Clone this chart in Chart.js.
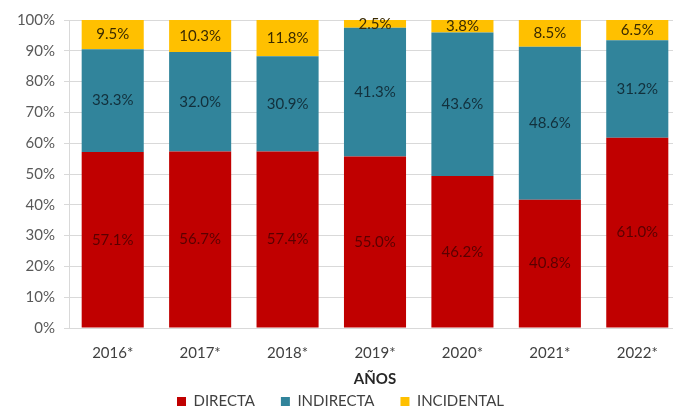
<!DOCTYPE html>
<html>
<head>
<meta charset="utf-8">
<script src="https://cdn.jsdelivr.net/npm/chart.js@4"></script>
<style>
  html, body { margin: 0; padding: 0; background: #fff; overflow: hidden; }
  #wrap { width: 685px; height: 409px; position: relative; }
</style>
</head>
<body>
<div id="wrap"><canvas id="chart"></canvas></div>
<script>
// data (labelled shares, %)
const years = ['2016*', '2017*', '2018*', '2019*', '2020*', '2021*', '2022*'];
const directa = [57.1, 56.7, 57.4, 55.0, 46.2, 40.8, 61.0];
const indirecta = [33.3, 32.0, 30.9, 41.3, 43.6, 48.6, 31.2];
const incidental = [9.5, 10.3, 11.8, 2.5, 3.8, 8.5, 6.5];
const yTicks = [0, 10, 20, 30, 40, 50, 60, 70, 80, 90, 100];

const FONT = 'Lato, "Open Sans", sans-serif';

// 100% stacked columns: each bar is drawn as share of its year total
const totals = years.map((y, i) => directa[i] + indirecta[i] + incidental[i]);
const share = arr => arr.map((v, i) => v / totals[i] * 100);

// labels in the middle of each bar segment (the labelled value)
const segmentLabels = {
    id: 'segmentLabels',
    afterDatasetsDraw(chart) {
        const ctx = chart.ctx;
        ctx.save();
        ctx.font = '15px ' + FONT;
        ctx.textAlign = 'center';
        ctx.textBaseline = 'middle';
        chart.data.datasets.forEach((ds, i) => {
            chart.getDatasetMeta(i).data.forEach((bar, j) => {
                const mid = (bar.y + bar.base) / 2;
                ctx.fillStyle = ds.labelColor;
                ctx.fillText(ds.raw[j].toFixed(1) + '%', bar.x, mid);
            });
        });
        ctx.restore();
    }
};

new Chart(document.getElementById('chart'), {
    type: 'bar',
    data: {
        labels: years,
        datasets: [
            { label: 'DIRECTA', data: share(directa), raw: directa, backgroundColor: '#C00000', labelColor: '#5a0000' },
            { label: 'INDIRECTA', data: share(indirecta), raw: indirecta, backgroundColor: '#31849B', labelColor: '#12303c' },
            { label: 'INCIDENTAL', data: share(incidental), raw: incidental, backgroundColor: '#FFC000', labelColor: '#3a2a00' }
        ]
    },
    options: {
        responsive: true,
        maintainAspectRatio: false,
        animation: false,
        barPercentage: 0.71,
        categoryPercentage: 1,
        layout: { padding: { top: 20, left: 0, right: 4, bottom: -10 } },
        plugins: {
            legend: {
                position: 'bottom',
                labels: {
                    boxWidth: 9,
                    boxHeight: 9,
                    padding: 26,
                    color: '#404040',
                    font: { family: FONT, size: 15 }
                }
            },
            tooltip: { enabled: false }
        },
        scales: {
            x: {
                stacked: true,
                grid: { display: false },
                border: { color: '#d9d9d9' },
                ticks: { color: '#404040', font: { family: FONT, size: 15 }, padding: 8 },
                title: {
                    display: true,
                    text: 'AÑOS',
                    color: '#262626',
                    font: { family: FONT, size: 15, weight: 'bold' },
                    padding: { top: 0, bottom: -20 }
                },
                afterFit(axis) { axis.height = 40; }
            },
            y: {
                stacked: true,
                min: 0,
                max: 100,
                afterBuildTicks(axis) { axis.ticks = yTicks.map(v => ({ value: v })); },
                grid: { color: '#d9d9d9', tickLength: 5 },
                border: { color: '#d9d9d9' },
                ticks: {
                    color: '#595959',
                    font: { family: FONT, size: 15 },
                    padding: 9,
                    callback: v => v + '%'
                },
                afterFit(axis) { axis.width = 69; }
            }
        }
    },
    plugins: [segmentLabels]
});
</script>
</body>
</html>
